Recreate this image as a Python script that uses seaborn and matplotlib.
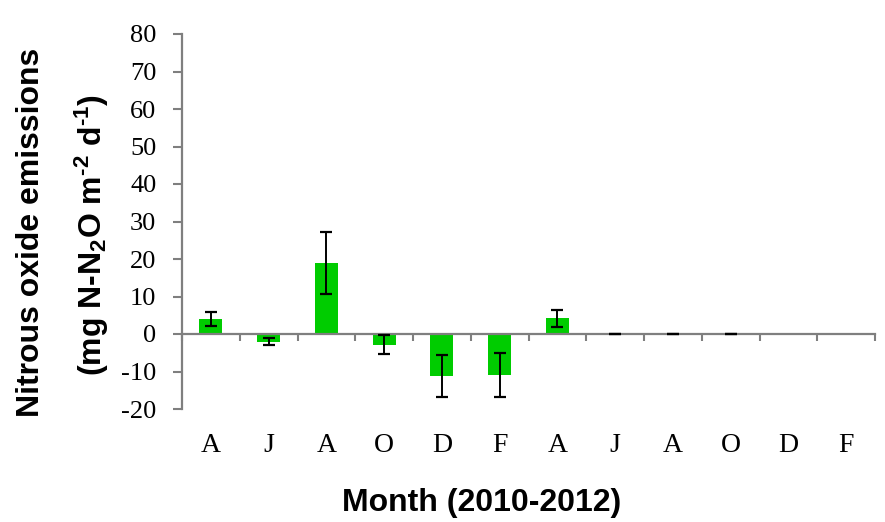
import numpy as np
import pandas as pd
import matplotlib
matplotlib.use("Agg")
import matplotlib.pyplot as plt
import seaborn as sns

# Data
months = ["Apr-10", "Jun-10", "Aug-10", "Oct-10", "Dec-10", "Feb-11",
          "Apr-11", "Jun-11", "Aug-11", "Oct-11", "Dec-11", "Feb-12"]
tick_labels = ["A", "J", "A", "O", "D", "F", "A", "J", "A", "O", "D", "F"]
n2o_mean = [4.0, -2.0, 19.0, -2.8, -11.2, -10.9, 4.2, 0.0, 0.0, 0.0, np.nan, np.nan]
n2o_err = [1.9, 1.0, 8.3, 2.5, 5.6, 5.9, 2.2, 0.0, 0.0, 0.0, np.nan, np.nan]
y_ticks = [-20, -10, 0, 10, 20, 30, 40, 50, 60, 70, 80]

df = pd.DataFrame({"month": months, "n2o": n2o_mean, "err": n2o_err})

sns.set_theme(style="white")
plt.rcParams["font.family"] = ["Liberation Serif", "DejaVu Serif"]
plt.rcParams["text.color"] = "black"
plt.rcParams["xtick.color"] = "black"
plt.rcParams["ytick.color"] = "black"
plt.rcParams["mathtext.default"] = "regular"

W, H = 885, 522
fig = plt.figure(figsize=(W / 100, H / 100), dpi=100)
fig.patch.set_facecolor("white")
ax = fig.add_axes([182 / W, 1 - 409 / H, (875 - 182) / W, (409 - 34) / H])
ax.set_facecolor("none")

sns.barplot(data=df, x="month", y="n2o", order=months, color="#00CC00",
            saturation=1, width=0.4, errorbar=None, ax=ax, linewidth=0)

xpos = np.arange(len(months))
ax.errorbar(xpos, df["n2o"], yerr=df["err"], fmt="none", ecolor="black",
            elinewidth=1.4, capsize=4.3, capthick=1.6, zorder=5)

ax.set_xlim(-0.5, len(months) - 0.5)
ax.set_ylim(-20, 80)
ax.set_yticks(y_ticks)
ax.set_yticklabels([str(v) for v in y_ticks], fontsize=19, color="black")

spine_col = "#7f7f7f"
for s in ["top", "right"]:
    ax.spines[s].set_visible(False)
ax.spines["left"].set_color(spine_col)
ax.spines["left"].set_linewidth(1.6)
ax.spines["bottom"].set_color(spine_col)
ax.spines["bottom"].set_linewidth(1.6)
ax.spines["bottom"].set_position(("data", 0))
ax.spines["bottom"].set_zorder(1)

ax.tick_params(axis="y", which="major", direction="out", length=6.5,
               width=1.5, color=spine_col, pad=12, left=True)
ax.set_xticks(xpos)
ax.set_xticklabels(tick_labels, fontsize=20, color="black")
ax.set_xticks(np.arange(-0.5, len(months), 1.0), minor=True)
ax.tick_params(axis="x", which="major", length=0, pad=71, bottom=True)
ax.tick_params(axis="x", which="minor", direction="out", length=5,
               width=1.5, color=spine_col, bottom=True)

ax.set_xlabel("")
ax.set_ylabel("")

sans = ["Liberation Sans", "DejaVu Sans"]
fig.text(31 / W, 1 - 232 / H, "Nitrous oxide emissions", rotation=90,
         ha="center", va="center", fontsize=23, fontweight="bold",
         family=sans, color="black")
fig.text(92 / W, 1 - 235 / H, "(mg N-N$_2$O m$^{\u2010 2}$ d$^{\u20101}$)",
         rotation=90, ha="center", va="center", fontsize=23,
         fontweight="bold", family=sans, color="black")
fig.text(482 / W, 1 - 503 / H, "Month (2010-2012)", ha="center", va="center",
         fontsize=23, fontweight="bold", family=sans, color="black")

fig.savefig("out.png", dpi=100)
